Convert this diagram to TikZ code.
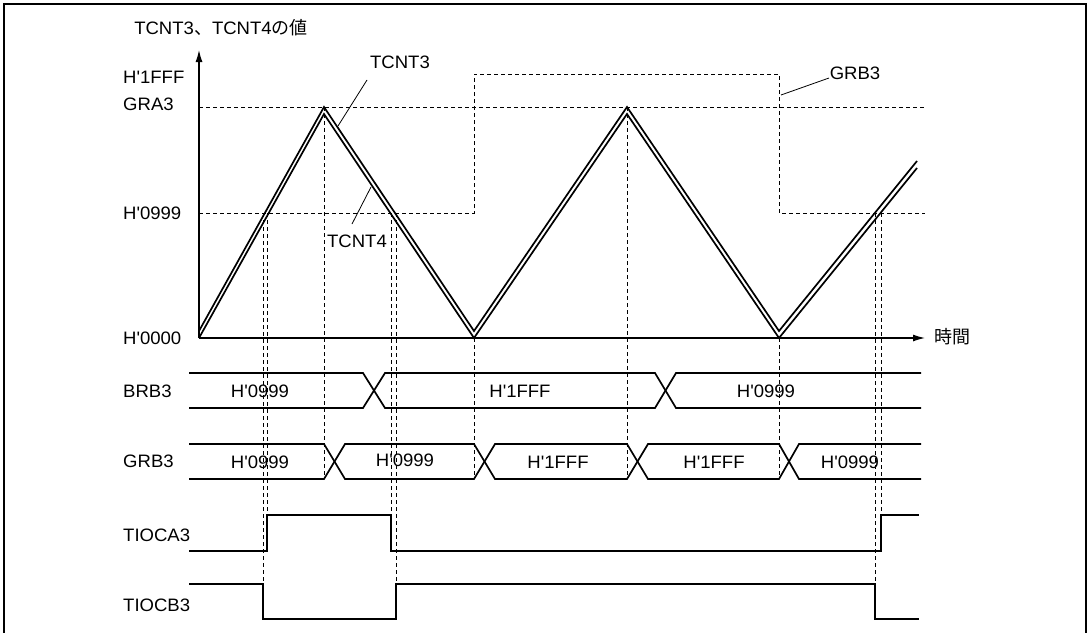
\documentclass[tikz,border=0pt]{standalone}
\usepackage{fontspec}
\setmainfont{Liberation Sans}[FakeStretch=1.03]
\newfontfamily\cjk{Noto Sans CJK JP}
\usetikzlibrary{arrows.meta}
\newcommand\ap{\textquotesingle}
\begin{document}
\begin{tikzpicture}[x=1pt,y=-1pt,
  txt/.style={font=\fontsize{18}{21}\selectfont, inner sep=0pt},
  ylbl/.style={txt, anchor=west},
  sig/.style={line width=1.7pt, line join=miter},
  wave/.style={line width=1.7pt, line join=miter},
  dsh/.style={line width=0.8pt, dash pattern=on 4pt off 3pt},
  axis/.style={line width=1.2pt, -{Latex[length=12pt,width=7pt]}},
  lead/.style={line width=0.8pt}]
\useasboundingbox (0,0) rectangle (1089,632);
\draw[line width=2.5pt] (4,640) -- (4,4) -- (1086,4) -- (1086,640);

% reference levels (dashed)
\draw[dsh] (199,107) -- (925,107);
\draw[dsh] (199,213) -- (474,213) -- (474,74) -- (779,74) -- (779,213) -- (925,213);

% vertical dashed timing lines
\draw[dsh] (263,213) -- (263,584);
\draw[dsh] (267,213) -- (267,515);
\draw[dsh] (324,107) -- (324,479);
\draw[dsh] (391,213) -- (391,515);
\draw[dsh] (396,213) -- (396,584);
\draw[dsh] (474,338) -- (474,479);
\draw[dsh] (627,107) -- (627,479);
\draw[dsh] (779,338) -- (779,479);
\draw[dsh] (875,213) -- (875,584);
\draw[dsh] (881,213) -- (881,515);

% axes
\coordinate (O) at (199,338);
\coordinate (Ytop) at (199,50);
\coordinate (Xend) at (925,338);
\draw[axis] (O) -- (Ytop);
\draw[axis] (O) -- (Xend);

% counters
\draw[wave] (199,338) -- (324,114) -- (474,338) -- (627,114) -- (779,338) -- (917,168);
\draw[wave] (199,331) -- (324,107) -- (474,331) -- (627,107) -- (779,331) -- (917,161);

% labels on the axes
\node[txt] (title) at (221,28) {TCNT3{\cjk 、}TCNT4{\cjk の値}};
\node[txt, anchor=west] (time) at (934,337) {\cjk 時間};
\node[ylbl] (l1fff) at (123,77) {H\ap 1FFF};
\node[ylbl] (lgra) at (123,104) {GRA3};
\node[ylbl] (l0999) at (123,213) {H\ap 0999};
\node[ylbl] (l0000) at (123,338) {H\ap 0000};
\node[ylbl] (lbrb) at (123,391) {BRB3};
\node[ylbl] (lgrb) at (123,461) {GRB3};
\node[ylbl] (ltioca) at (123,535) {TIOCA3};
\node[ylbl] (ltiocb) at (123,605) {TIOCB3};

% curve labels with leaders
\node[txt] (t3) at (400,62) {TCNT3};
\node[txt] (t4) at (357,241) {TCNT4};
\node[txt] (g3) at (855,73) {GRB3};
\coordinate (t3a) at (367,80);
\coordinate (t3b) at (338,126);
\coordinate (t4a) at (352,224);
\coordinate (t4b) at (371,187);
\coordinate (g3a) at (829,78);
\coordinate (g3b) at (781,95);
\draw[lead] (t3a) -- (t3b);
\draw[lead] (t4a) -- (t4b);
\draw[lead] (g3a) -- (g3b);

% BRB3 bus
\draw[sig] (189,373) -- (363,373) -- (385,408) -- (655,408) -- (676,373) -- (921,373);
\draw[sig] (189,408) -- (363,408) -- (385,373) -- (655,373) -- (676,408) -- (921,408);
\node[txt] (b1) at (260,391) {H\ap 0999};
\node[txt] (b2) at (520,391) {H\ap 1FFF};
\node[txt] (b3) at (766,391) {H\ap 0999};

% GRB3 bus
\draw[sig] (189,444) -- (324,444) -- (345,479) -- (474,479) -- (495,444) -- (627,444) -- (648,479) -- (779,479) -- (799,444) -- (921,444);
\draw[sig] (189,479) -- (324,479) -- (345,444) -- (474,444) -- (495,479) -- (627,479) -- (648,444) -- (779,444) -- (799,479) -- (921,479);
\node[txt] (g1) at (260,462) {H\ap 0999};
\node[txt] (g2) at (405,460) {H\ap 0999};
\node[txt] (g3t) at (558,462) {H\ap 1FFF};
\node[txt] (g4) at (714,462) {H\ap 1FFF};
\node[txt] (g5) at (850,462) {H\ap 0999};

% TIOCA3 / TIOCB3
\draw[sig] (189,551) -- (267,551) -- (267,515) -- (391,515) -- (391,551) -- (881,551) -- (881,515) -- (919,515);
\draw[sig] (189,584) -- (263,584) -- (263,619) -- (396,619) -- (396,584) -- (875,584) -- (875,619) -- (919,619);
\end{tikzpicture}
\end{document}
